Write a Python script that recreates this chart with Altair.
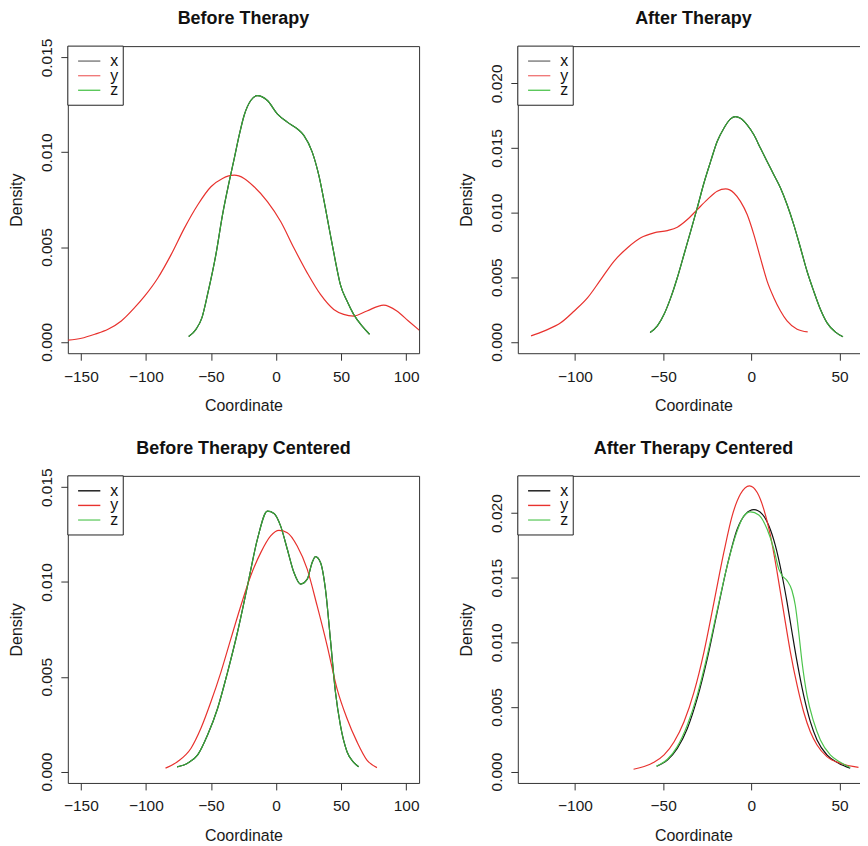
import altair as alt
import pandas as pd

SERIES = ["x", "y", "z"]

# ---------------- Before Therapy ----------------
bt_z_coord = [-67.1, -61.5, -56.9, -52.6, -46.2, -41.1, -36.0, -32.1, -28.3, -24.5, -19.4, -14.3,
              -6.6, 1.0, 8.7, 16.3, 21.4, 27.8, 32.9, 38.0, 41.8, 45.7, 49.5, 54.6, 59.7, 66.1, 71.9]
bt_z_dens = [0.00028, 0.00066, 0.00128, 0.0025, 0.0046, 0.0067, 0.00844, 0.00967, 0.01089, 0.01194,
             0.01273, 0.01299, 0.01273, 0.01203, 0.01159, 0.01124, 0.01089, 0.01002, 0.00879, 0.00705,
             0.00565, 0.00425, 0.00302, 0.00215, 0.00145, 0.00084, 0.0004]
bt_x_coord = list(bt_z_coord)   # x and z curves coincide in this panel
bt_x_dens = list(bt_z_dens)
bt_y_coord = [-159.7, -149.5, -139.3, -129.1, -118.9, -108.7, -101.0, -90.8, -80.6, -70.4, -60.2,
              -50.0, -41.1, -32.1, -24.5, -16.8, -6.6, 3.6, 13.8, 24.0, 34.2, 44.4, 52.0, 59.7,
              69.9, 82.7, 92.9, 101.8, 110.2]
bt_y_dens = [0.00009, 0.00019, 0.0004, 0.00066, 0.0011, 0.0018, 0.00241, 0.00337, 0.0046, 0.006,
             0.00722, 0.00818, 0.00862, 0.00879, 0.00862, 0.00818, 0.0074, 0.00635, 0.00495, 0.00364,
             0.0025, 0.00171, 0.00145, 0.00136, 0.00163, 0.00194, 0.00163, 0.0011, 0.00061]

# ---------------- After Therapy ----------------
at_z_coord = [-57.4, -53.3, -49.5, -45.7, -42.0, -38.2, -34.4, -30.7, -26.9, -23.1, -19.4, -15.6,
              -11.8, -9.0, -6.2, -2.4, 1.4, 5.1, 8.9, 12.7, 16.5, 20.2, 24.0, 27.8, 31.5, 35.3,
              39.1, 42.8, 47.5, 51.9]
at_z_dens = [0.00072, 0.00123, 0.00213, 0.00342, 0.00496, 0.00676, 0.00856, 0.01036, 0.01229,
             0.01396, 0.0155, 0.01653, 0.01725, 0.01743, 0.0173, 0.01679, 0.01602, 0.01499, 0.01396,
             0.01293, 0.0119, 0.01062, 0.00907, 0.00728, 0.00548, 0.00393, 0.00252, 0.00149,
             0.00077, 0.00039]
at_x_coord = list(at_z_coord)
at_x_dens = list(at_z_dens)
at_y_coord = [-124.9, -117.3, -107.9, -100.4, -92.8, -85.3, -77.8, -70.2, -62.7, -55.2, -47.6,
              -42.0, -36.3, -30.7, -25.0, -19.4, -14.6, -9.9, -6.2, -2.4, 1.4, 5.1, 8.9, 12.7,
              16.5, 20.2, 25.9, 31.9]
at_y_dens = [0.00046, 0.00085, 0.00149, 0.00239, 0.00342, 0.00483, 0.00625, 0.00728, 0.00805,
             0.00843, 0.00861, 0.00887, 0.00946, 0.01023, 0.011, 0.01165, 0.01183, 0.01152,
             0.01087, 0.00985, 0.0083, 0.0065, 0.0047, 0.00342, 0.00239, 0.00162, 0.00098, 0.00077]

# ---------------- Before Therapy Centered ----------------
bc_z_coord = [-76.0, -67.9, -60.2, -52.6, -44.9, -37.2, -29.6, -21.9, -14.3, -6.6, -1.5, 3.6, 8.7,
              13.8, 18.9, 24.0, 27.8, 30.4, 34.2, 38.0, 41.8, 45.7, 49.5, 54.6, 59.7, 63.5]
bc_z_dens = [0.00025, 0.00044, 0.00088, 0.00193, 0.00333, 0.00525, 0.00735, 0.0098, 0.01225,
             0.01374, 0.01362, 0.01295, 0.01173, 0.0105, 0.00989, 0.01015, 0.01103, 0.01134,
             0.01103, 0.00963, 0.007, 0.0042, 0.00245, 0.00105, 0.00049, 0.00026]
bc_x_coord = list(bc_z_coord)
bc_x_dens = list(bc_z_dens)
bc_y_coord = [-84.9, -75.5, -65.3, -57.7, -50.0, -42.3, -34.7, -27.0, -19.4, -11.7, -4.1, 2.3,
              8.7, 16.3, 24.0, 31.6, 39.3, 46.9, 54.6, 62.2, 69.9, 77.6]
bc_y_dens = [0.00018, 0.00053, 0.00123, 0.00228, 0.00368, 0.00525, 0.007, 0.00875, 0.01033,
             0.01155, 0.01243, 0.01272, 0.0126, 0.0119, 0.01068, 0.00875, 0.00665, 0.00438,
             0.0028, 0.00158, 0.00061, 0.00021]

# ---------------- After Therapy Centered ----------------
ac_x_coord = [-53.6, -47.6, -42.0, -36.3, -30.7, -25.0, -19.4, -13.7, -8.0, -3.3, 1.4, 6.1, 9.9,
              13.6, 17.4, 20.2, 23.0, 25.9, 29.6, 33.4, 37.2, 42.8, 49.4, 56.0]
ac_x_dens = [0.00041, 0.0009, 0.0018, 0.00334, 0.00566, 0.00874, 0.01234, 0.01594, 0.01877,
             0.01992, 0.02026, 0.01992, 0.01902, 0.01748, 0.01517, 0.01311, 0.0108, 0.00848,
             0.00591, 0.00386, 0.00244, 0.00129, 0.00064, 0.00026]
ac_y_coord = [-66.8, -60.8, -55.2, -49.5, -43.8, -38.2, -32.5, -26.9, -21.2, -15.6, -10.9, -6.2,
              -1.1, 3.3, 7.0, 10.8, 14.6, 18.3, 22.1, 25.9, 29.6, 33.4, 37.2, 42.8, 50.4, 60.7]
ac_y_dens = [0.00018, 0.00039, 0.00072, 0.00129, 0.00231, 0.00386, 0.00617, 0.00925, 0.01311,
             0.01697, 0.01979, 0.02147, 0.02211, 0.02159, 0.02031, 0.01825, 0.01542, 0.01234,
             0.00925, 0.00668, 0.00463, 0.00308, 0.00206, 0.00116, 0.00064, 0.00033]
ac_z_coord = [-54.0, -47.6, -42.0, -36.3, -30.7, -25.0, -19.4, -13.7, -8.0, -4.3, -0.5, 4.2, 8.9,
              12.7, 15.5, 17.4, 20.2, 23.0, 24.9, 26.8, 28.7, 31.5, 35.3, 39.1, 44.7, 50.4, 56.0]
ac_z_dens = [0.00041, 0.00095, 0.00193, 0.0036, 0.00591, 0.009, 0.01247, 0.01594, 0.01864,
             0.01979, 0.0201, 0.01985, 0.01877, 0.01722, 0.01568, 0.01517, 0.01478, 0.01401,
             0.01285, 0.0108, 0.00848, 0.00591, 0.00386, 0.00244, 0.00129, 0.00072, 0.00031]

# axis ticks
x_ticks_left = [-150, -100, -50, 0, 50, 100]
x_ticks_right = [-100, -50, 0, 50]
y_ticks_left = [0.0, 0.005, 0.010, 0.015]
y_ticks_right = [0.0, 0.005, 0.010, 0.015, 0.020]

# ---------------- styling / layout ----------------
FONT = "Liberation Sans"
FRAME = "#333333"
PLOT_H = 308
PLOT_W = 352.3
TITLE_CX = PLOT_W / 2
X_DOM_LEFT = [-160, 110]
X_DOM_RIGHT = [-132.4, 66.7]
Y_DOM_LEFT = [-0.0006, 0.0156]
Y_DOM_RIGHT = [-0.00088, 0.02288]

LINE_TOP = ["#111111", "#e8322e", "#38a838"]
LEG_TOP = ["#7a7a7a", "#f07a7a", "#5cc85c"]
LINE_BOT_L = ["#111111", "#e8322e", "#38a838"]
LINE_BOT_R = ["#111111", "#e8322e", "#4cc44c"]
LEG_BOT = ["#111111", "#e8322e", "#6fcf6f"]


def make_panel(title, series, xdom, xticks, ydom, yticks, line_colors, leg_colors):
    rows = []
    for name, (cs, ds) in zip(SERIES, series):
        for i, (c, d) in enumerate(zip(cs, ds)):
            rows.append({"coord": c, "dens": d, "series": name, "i": i})
    df = pd.DataFrame(rows)

    xax = alt.Axis(values=xticks, title="Coordinate", grid=False, domain=False,
                   tickColor=FRAME, tickSize=7, labelPadding=9,
                   labelFontSize=15.5, labelFlush=False, labelOverlap=False,
                   titleFontSize=16, titleFontWeight="normal", titleBaseline="alphabetic",
                   titleX=TITLE_CX, titleY=57.5, titleAlign="center")
    yax = alt.Axis(values=yticks, format=".3f", title="Density", grid=False, domain=False,
                   tickColor=FRAME, tickSize=7, labelAngle=270,
                   labelAlign="center", labelBaseline="bottom", labelPadding=6.4,
                   labelFontSize=15.5, labelFlush=False, labelOverlap=False,
                   titleFontSize=16, titleFontWeight="normal", titleAngle=270,
                   titleBaseline="alphabetic", titleAlign="center",
                   titleX=-46.5, titleY=PLOT_H / 2)

    base = alt.Chart(df).mark_line(clip=True, strokeWidth=1.2, interpolate="monotone").encode(
        x=alt.X("coord:Q", scale=alt.Scale(domain=xdom, nice=False, zero=False), axis=xax),
        y=alt.Y("dens:Q", scale=alt.Scale(domain=ydom, nice=False, zero=False), axis=yax),
        color=alt.Color("series:N", scale=alt.Scale(domain=SERIES, range=line_colors), legend=None),
        order=alt.Order("i:Q"),
    )
    lines = alt.layer(*[base.transform_filter(alt.datum.series == s) for s in SERIES])

    one = pd.DataFrame({"k": [0]})
    leg_df = pd.DataFrame({"series": SERIES})
    ley = alt.Y("series:N", scale=alt.Scale(type="point", domain=SERIES, range=[15, 44.3], padding=0),
                axis=None)
    box = alt.Chart(one).mark_rect(
        fill="white", stroke="#222222", strokeWidth=1).encode(
        x=alt.value(0), x2=alt.value(55.6), y=alt.value(0), y2=alt.value(59.3))
    leg_lines = alt.Chart(leg_df).mark_rule(strokeWidth=1.4).encode(
        x=alt.value(10.3), x2=alt.value(32.6), y=ley,
        color=alt.Color("series:N", scale=alt.Scale(domain=SERIES, range=leg_colors), legend=None))
    leg_text = alt.Chart(leg_df).mark_text(
        align="left", baseline="middle", fontSize=16, font=FONT, color="#111111").encode(
        x=alt.value(42.5), y=ley, text="series:N")
    head = alt.Chart(one).mark_text(
        text=title, align="center", baseline="alphabetic", fontSize=18, fontWeight="bold",
        font=FONT, color="#111111").encode(x=alt.value(TITLE_CX), y=alt.value(-22))
    overlay = alt.layer(box, leg_lines, leg_text, head)

    return alt.layer(lines, overlay).resolve_scale(y="independent", color="independent").properties(
        width=PLOT_W, height=PLOT_H)


p1 = make_panel("Before Therapy",
                [(bt_x_coord, bt_x_dens), (bt_y_coord, bt_y_dens), (bt_z_coord, bt_z_dens)],
                X_DOM_LEFT, x_ticks_left, Y_DOM_LEFT, y_ticks_left, LINE_TOP, LEG_TOP)
p2 = make_panel("After Therapy",
                [(at_x_coord, at_x_dens), (at_y_coord, at_y_dens), (at_z_coord, at_z_dens)],
                X_DOM_RIGHT, x_ticks_right, Y_DOM_RIGHT, y_ticks_right, LINE_TOP, LEG_TOP)
p3 = make_panel("Before Therapy Centered",
                [(bc_x_coord, bc_x_dens), (bc_y_coord, bc_y_dens), (bc_z_coord, bc_z_dens)],
                X_DOM_LEFT, x_ticks_left, Y_DOM_LEFT, y_ticks_left, LINE_BOT_L, LEG_BOT)
p4 = make_panel("After Therapy Centered",
                [(ac_x_coord, ac_x_dens), (ac_y_coord, ac_y_dens), (ac_z_coord, ac_z_dens)],
                X_DOM_RIGHT, x_ticks_right, Y_DOM_RIGHT, y_ticks_right, LINE_BOT_R, LEG_BOT)

# The original figure is cropped at its right edge; a negative right padding
# reproduces that crop (the right-hand panels run past the picture's edge).
chart = alt.concat(p1, p2, p3, p4, columns=2, spacing={"row": 123, "column": 98.3},
                   bounds="flush").resolve_scale(
    x="independent", y="independent", color="independent"
).properties(
    padding={"left": 0, "top": 0, "right": -10.5, "bottom": 0}
).configure(font=FONT).configure_view(
    stroke=FRAME, strokeWidth=1
).configure_axis(
    labelFont=FONT, titleFont=FONT, labelColor="#1a1a1a", titleColor="#1a1a1a"
)

chart.save("out.html", embed_options={"renderer": "svg", "actions": False})
